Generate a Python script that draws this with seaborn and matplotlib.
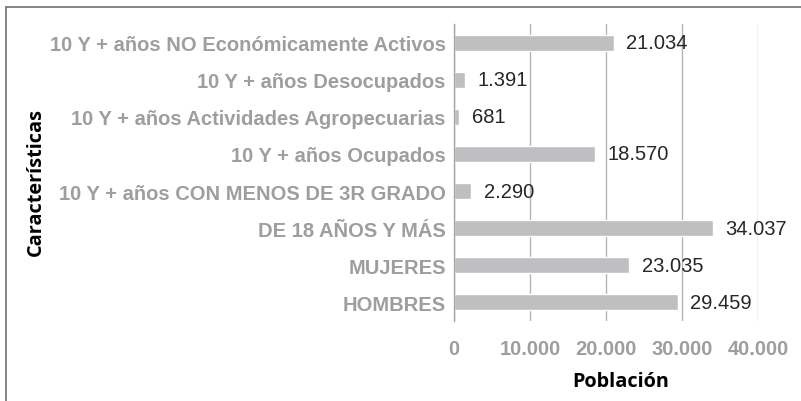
import matplotlib
matplotlib.use("Agg")
import matplotlib.pyplot as plt
import matplotlib.lines as mlines
import seaborn as sns
import pandas as pd

# datos
categorias = [
    "10 Y + años NO Económicamente Activos",
    "10 Y + años Desocupados",
    "10 Y + años Actividades Agropecuarias",
    "10 Y + años Ocupados",
    "10 Y + años CON MENOS DE 3R GRADO",
    "DE 18 AÑOS Y MÁS",
    "MUJERES",
    "HOMBRES",
]
poblacion = [21034, 1391, 681, 18570, 2290, 34037, 23035, 29459]
ticks_x = [0, 10000, 20000, 30000, 40000]

df = pd.DataFrame({"Características": categorias, "Población": poblacion})

sns.set_style("white")
plt.rcParams["font.family"] = ["Liberation Sans", "DejaVu Sans"]

fig = plt.figure(figsize=(8.01, 4.02), dpi=100)
ax = fig.add_axes([0.5668, 0.199, 0.3795, 0.7388])

sns.barplot(data=df, x="Población", y="Características", orient="h",
            color="#bfbfc1", saturation=1, width=0.43, ax=ax)

ax.set_xlim(0, 40000)
ax.set_ylim(len(categorias) - 0.5, -0.5)
ax.set_xticks(ticks_x)
ax.set_xticklabels([f"{t:,}".replace(",", ".") for t in ticks_x])

for c in ax.containers:
    ax.bar_label(c, labels=[f"{v:,}".replace(",", ".") for v in poblacion],
                 padding=9, fontsize=14.5, color="#262626")

ax.grid(axis="x", color="#b5b5b5", linewidth=1)
ax.set_axisbelow(True)
for s in ["top", "right", "bottom"]:
    ax.spines[s].set_visible(False)
ax.spines["left"].set_color("#a6a6a6")
ax.spines["left"].set_linewidth(1)

ax.tick_params(axis="x", length=6, width=1, color="#b5b5b5", pad=7,
               labelsize=14.5, labelcolor="#9e9e9e")
ax.tick_params(axis="y", length=0, pad=6, labelsize=14.5, labelcolor="#9e9e9e")
for lab in ax.get_xticklabels() + ax.get_yticklabels():
    lab.set_fontweight("bold")
ax.set_yticks([i + 0.5 for i in range(-1, len(categorias))], minor=True)
ax.tick_params(axis="y", which="minor", length=5, width=1, color="#a6a6a6")

ax.set_xlabel("Población", fontsize=14.3, fontweight="bold", family="Open Sans",
              color="#000000")
ax.set_ylabel("Características", fontsize=14.3, fontweight="bold", family="Open Sans",
              color="#000000")
ax.xaxis.set_label_coords(0.775, 0.075, transform=fig.transFigure)
ax.yaxis.set_label_coords(0.057, 0.548, transform=fig.transFigure)

# marco exterior
fig.add_artist(mlines.Line2D([0.0075, 1.0], [0.98, 0.98], color="#707070", linewidth=1.2,
                             transform=fig.transFigure))
fig.add_artist(mlines.Line2D([0.0075, 0.0075], [0.0, 0.98], color="#707070", linewidth=1.2,
                             transform=fig.transFigure))

fig.savefig("out.png", dpi=100)
